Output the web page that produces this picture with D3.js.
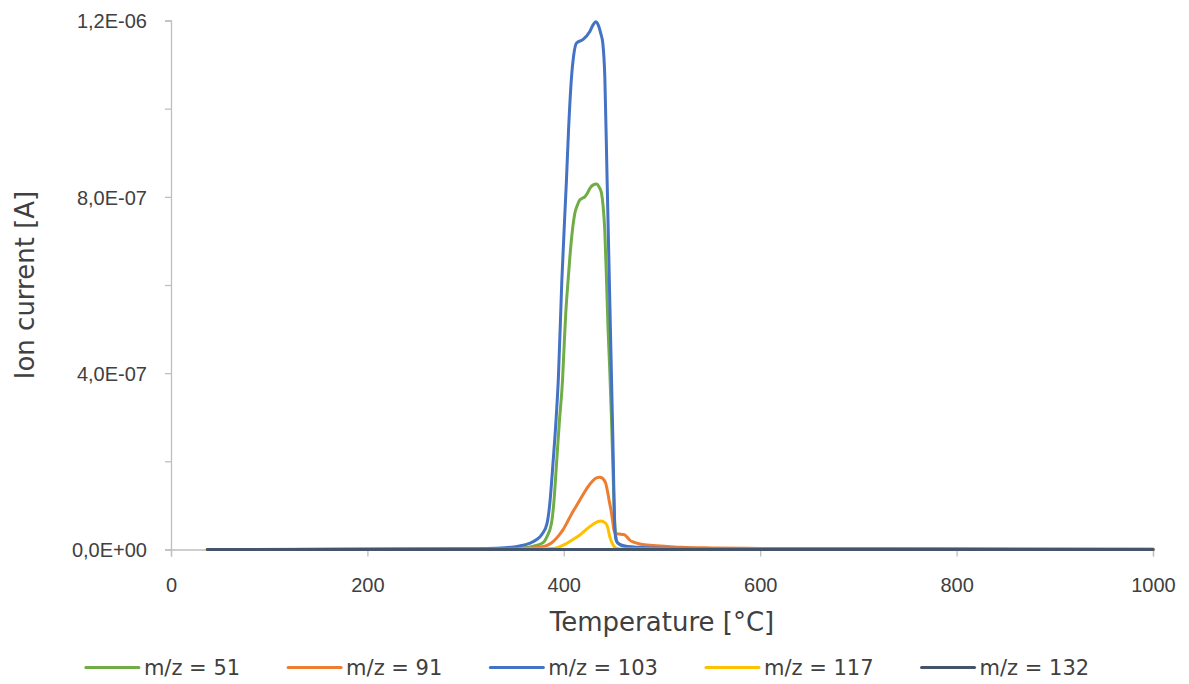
<!DOCTYPE html>
<html>
<head>
<meta charset="utf-8">
<script src="https://cdn.jsdelivr.net/npm/d3@7"></script>
<style>
  html, body { margin: 0; padding: 0; background: #ffffff; }
  svg { display: block; font-family: "DejaVu Sans", Verdana, sans-serif; }
</style>
</head>
<body>
<svg id="chart" width="1189" height="684"></svg>
<script>
// ---------- data ----------
const seriesNames = ["m/z = 51", "m/z = 91", "m/z = 103", "m/z = 117", "m/z = 132"];
const seriesColors = ["#70ad47", "#ed7d31", "#4472c4", "#ffc000", "#44546a"];

const temp51 = [37, 200, 300, 340, 360, 370, 378.6, 383, 387.5, 390, 392.6, 395.5, 398.7, 400.5, 402, 404.4, 407.1, 411.2, 413.6, 416.3, 419, 421.4, 424, 426.5, 430, 433.3, 436, 438.4, 440, 441.7, 443.5, 445.1, 446.8, 448.5, 450, 451.5, 453, 455, 460, 467, 480, 500, 600, 1000];
const ion51 = [0, 3e-10, 1e-9, 2.5e-9, 4e-9, 8e-9, 1.5e-8, 3e-8, 6e-8, 1.1e-7, 1.95e-7, 2.9e-7, 3.84e-7, 4.7e-7, 5.36e-7, 6.11e-7, 6.87e-7, 7.62e-7, 7.8e-7, 7.93e-7, 7.97e-7, 8.0e-7, 8.08e-7, 8.19e-7, 8.27e-7, 8.29e-7, 8.22e-7, 8.08e-7, 7.8e-7, 7.25e-7, 6.11e-7, 4.98e-7, 4.07e-7, 3e-7, 1.9e-7, 8e-8, 3e-8, 1.4e-8, 8e-9, 6e-9, 4e-9, 2.5e-9, 1e-9, 0];

const temp91 = [37, 200, 300, 350, 365, 375, 382.4, 387, 390.8, 395, 399.3, 403.5, 407.8, 412, 416.3, 421, 426.5, 431, 434, 436.6, 439, 440.8, 442.7, 444.5, 446.1, 448, 449.6, 451, 452.5, 454, 457, 460, 462, 464.5, 467, 472, 477.4, 485, 494, 505, 520, 550, 600, 700, 1000];
const ion91 = [0, 1e-9, 2e-9, 2.5e-9, 3e-9, 5e-9, 8.6e-9, 1.4e-8, 2.15e-8, 3.2e-8, 4.5e-8, 6.2e-8, 8.0e-8, 9.6e-8, 1.12e-7, 1.3e-7, 1.48e-7, 1.59e-7, 1.63e-7, 1.64e-7, 1.62e-7, 1.58e-7, 1.5e-7, 1.32e-7, 1.12e-7, 9e-8, 6.7e-8, 4.5e-8, 3.7e-8, 3.6e-8, 3.5e-8, 3.4e-8, 3.3e-8, 2.8e-8, 2.15e-8, 1.6e-8, 1.25e-8, 1e-8, 8.6e-9, 7e-9, 5e-9, 3.5e-9, 2.5e-9, 2e-9, 1e-9];

const temp103 = [37, 200, 300, 340, 355, 365, 372, 378, 383, 386, 389, 392, 394.5, 398, 402.7, 405, 407.8, 410, 413, 419.7, 426.5, 429.8, 432.6, 435, 437.7, 439.7, 441.8, 444, 446, 448, 450, 452, 453.5, 456, 462, 475, 500, 600, 1000];
const ion103 = [0, 5e-10, 1.5e-9, 4e-9, 8e-9, 1.4e-8, 2.2e-8, 3.5e-8, 6e-8, 1.1e-7, 1.96e-7, 2.9e-7, 3.9e-7, 6.1e-7, 8.38e-7, 9.6e-7, 1.07e-6, 1.12e-6, 1.149e-6, 1.157e-6, 1.175e-6, 1.19e-6, 1.197e-6, 1.19e-6, 1.17e-6, 1.149e-6, 1.07e-6, 8.49e-7, 6.48e-7, 4.47e-7, 2.46e-7, 4.4e-8, 2e-8, 1.3e-8, 8e-9, 5e-9, 3e-9, 1e-9, 0];

const temp117 = [37, 300, 370, 380, 388.8, 392, 396, 401, 406, 411, 416.3, 421, 426.5, 431, 435, 438.3, 440.5, 443.5, 445, 446.8, 448.5, 450.2, 452, 455, 460, 1000];
const ion117 = [0, 5e-10, 1e-9, 1.5e-9, 2e-9, 3.5e-9, 6.4e-9, 1.15e-8, 1.8e-8, 2.5e-8, 3.3e-8, 4.2e-8, 5.2e-8, 5.9e-8, 6.35e-8, 6.46e-8, 6.3e-8, 5.7e-8, 4.8e-8, 2.9e-8, 1.8e-8, 1e-8, 5e-9, 2e-9, 1e-9, 0];

const temp132 = [37, 200, 400, 600, 800, 1000];
const ion132 = [0, 0, 0, 0, 0, 0];

const xTicks = [0, 200, 400, 600, 800, 1000];
const yTicks = [0, 2e-7, 4e-7, 6e-7, 8e-7, 1e-6, 1.2e-6];
const xTitle = "Temperature [°C]";
const yTitle = "Ion current [A]";

// ---------- build ----------
const temps = [temp51, temp91, temp103, temp117, temp132];
const ions = [ion51, ion91, ion103, ion117, ion132];
const series = seriesNames.map((name, i) => ({
  name, color: seriesColors[i],
  points: temps[i].map((t, j) => [t, ions[i][j]])
}));

const svg = d3.select("#chart");
const textColor = "#404040";
const axisColor = "#bfbfbf";

const x = d3.scaleLinear().domain([0, 1000]).range([171, 1153]);
const y = d3.scaleLinear().domain([0, 1.2e-6]).range([549.5, 20.5]);

function fmtSci(v) {
  if (Math.abs(v) < 1e-15) return "0,0E+00";
  const parts = v.toExponential(1).split("e");
  const e = +parts[1];
  return parts[0].replace(".", ",") + "E" + (e < 0 ? "-" : "+") + String(Math.abs(e)).padStart(2, "0");
}

// Y axis
const yAxis = d3.axisLeft(y).tickValues(yTicks).tickSize(6).tickPadding(18)
  .tickFormat((d, i) => (i % 2 === 0 ? fmtSci(d) : ""));
const gy = svg.append("g").attr("transform", "translate(171,0)").call(yAxis);
gy.select(".domain").attr("stroke", axisColor).attr("stroke-width", 1.3);
gy.selectAll(".tick line").attr("stroke", axisColor).attr("stroke-width", 1.3);
gy.selectAll(".tick text").attr("fill", textColor).style("font-size", "20px")
  .attr("x", -24).attr("dy", "0.36em");

// X axis
const xAxis = d3.axisBottom(x).tickValues(xTicks).tickSize(7).tickPadding(10)
  .tickFormat(d3.format("d"));
const gx = svg.append("g").attr("transform", "translate(0,549.5)").call(xAxis);
gx.select(".domain").attr("stroke", axisColor).attr("stroke-width", 1.3);
gx.selectAll(".tick line").attr("stroke", axisColor).attr("stroke-width", 1.3);
gx.selectAll(".tick text").attr("fill", textColor).style("font-size", "20px")
  .attr("y", 0).attr("dy", 0).attr("transform", "translate(0,42)");

// Axis titles
svg.append("text").attr("x", 662).attr("y", 631).attr("text-anchor", "middle")
  .attr("fill", textColor).style("font-size", "26px").text(xTitle);
svg.append("text").attr("transform", "translate(34,285) rotate(-90)")
  .attr("text-anchor", "middle").attr("fill", textColor).style("font-size", "26px").text(yTitle);

// Lines
const line = d3.line().x(d => x(d[0])).y(d => y(d[1])).curve(d3.curveMonotoneX);
svg.append("g").selectAll("path").data(series).join("path")
  .attr("d", d => line(d.points))
  .attr("fill", "none")
  .attr("stroke", d => d.color)
  .attr("stroke-width", 3)
  .attr("stroke-linejoin", "round")
  .attr("stroke-linecap", "round");

// Legend
const legend = svg.append("g");
const lineLen = 53, gapText = 5, gapEntry = 48, legY = 667.5;
const items = legend.selectAll("g").data(series).join("g");
items.append("line").attr("x1", 0).attr("x2", lineLen).attr("y1", 0).attr("y2", 0)
  .attr("stroke", d => d.color).attr("stroke-width", 3).attr("stroke-linecap", "round");
items.append("text").attr("x", lineLen + gapText).attr("y", 0).attr("dy", "0.36em")
  .attr("fill", textColor).style("font-size", "21px").text(d => d.name);
let widths = [];
items.each(function () { widths.push(lineLen + gapText + this.querySelector("text").getComputedTextLength()); });
const total = d3.sum(widths) + gapEntry * (widths.length - 1);
let cx = 587.5 - total / 2;
items.attr("transform", (d, i) => {
  const t = `translate(${cx},${legY})`;
  cx += widths[i] + gapEntry;
  return t;
});
</script>
</body>
</html>
